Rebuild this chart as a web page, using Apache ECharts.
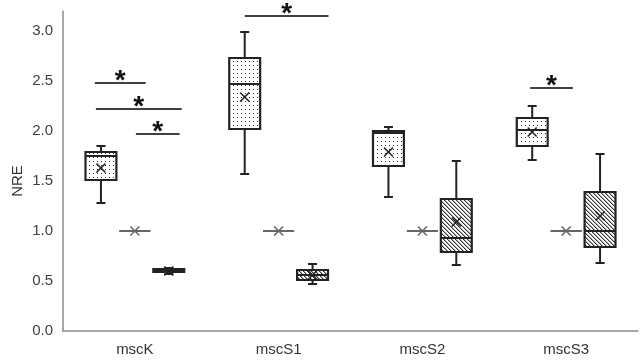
<!DOCTYPE html>
<html>
<head>
<meta charset="utf-8">
<script src="https://cdn.jsdelivr.net/npm/echarts@6/dist/echarts.min.js"></script>
<style>
  html, body { margin: 0; padding: 0; background: #fff; }
  #chart { width: 642px; height: 361px; }
</style>
</head>
<body>
<div id="chart"></div>
<script>
// categories on the x axis
const categories = ['mscK', 'mscS1', 'mscS2', 'mscS3'];

// box stats per category: [min, q1, median, q3, max, mean]
const dottedStats = [
  [1.28, 1.51, 1.75, 1.79, 1.85, 1.63],
  [1.57, 2.02, 2.47, 2.73, 2.99, 2.34],
  [1.34, 1.65, 1.98, 2.00, 2.04, 1.79],
  [1.71, 1.85, 2.01, 2.13, 2.25, 1.99]
];
const controlStats = [
  [1.0, 1.0, 1.0, 1.0, 1.0, 1.0],
  [1.0, 1.0, 1.0, 1.0, 1.0, 1.0],
  [1.0, 1.0, 1.0, 1.0, 1.0, 1.0],
  [1.0, 1.0, 1.0, 1.0, 1.0, 1.0]
];
const hatchedStats = [
  [0.57, 0.59, 0.60, 0.62, 0.63, 0.60],
  [0.47, 0.51, 0.56, 0.61, 0.67, 0.56],
  [0.66, 0.79, 0.93, 1.32, 1.70, 1.09],
  [0.68, 0.84, 1.00, 1.39, 1.77, 1.15]
];

// significance bars: category index, from slot, to slot, y level
const sigCat = [0, 0, 0, 1, 3];
const sigFrom = [-1.18, -1.15, 0.03, -1.0, -1.06];
const sigTo = [0.32, 1.38, 1.32, 1.47, 0.2];
const sigY = [2.48, 2.22, 1.97, 3.15, 2.43];

const yTicks = [0, 0.5, 1.0, 1.5, 2.0, 2.5, 3.0];

function makeDots() {
  const c = document.createElement('canvas');
  c.width = 4; c.height = 4;
  const ctx = c.getContext('2d');
  ctx.fillStyle = '#fff';
  ctx.fillRect(0, 0, 4, 4);
  ctx.fillStyle = '#333';
  ctx.fillRect(1, 1, 1, 1);
  return c;
}
function makeHatch() {
  const c = document.createElement('canvas');
  c.width = 4; c.height = 4;
  const ctx = c.getContext('2d');
  ctx.fillStyle = '#fff';
  ctx.fillRect(0, 0, 4, 4);
  ctx.fillStyle = '#333';
  for (let i = 0; i < 4; i++) {
    ctx.fillRect(i, i, 1, 1);
  }
  ctx.fillStyle = '#aaa';
  for (let i = 0; i < 4; i++) {
    ctx.fillRect((i + 1) % 4, i, 1, 1);
  }
  return c;
}

const SLOT = 0.236;   // slot spacing as share of band width
const BOXW = 0.215;   // box width as share of band width

function boxRenderer(slot, fill, stroke) {
  return function (params, api) {
    const band = api.size([1, 0])[0];
    const cx = api.coord([api.value(0), 0])[0] + slot * SLOT * band;
    const hw = BOXW * band / 2;
    const yMin = api.coord([0, api.value(1)])[1];
    const yQ1 = api.coord([0, api.value(2)])[1];
    const yMed = api.coord([0, api.value(3)])[1];
    const yQ3 = api.coord([0, api.value(4)])[1];
    const yMax = api.coord([0, api.value(5)])[1];
    const yMean = api.coord([0, api.value(6)])[1];
    const capW = 4.5, xs = 4.5;
    const line = (x1, y1, x2, y2, w, c) => ({
      type: 'line', shape: { x1, y1, x2, y2 },
      style: { stroke: c || stroke, lineWidth: w || 2 }
    });
    return {
      type: 'group',
      children: [
        line(cx, yQ3, cx, yMax),
        line(cx, yQ1, cx, yMin),
        line(cx - capW, yMax, cx + capW, yMax),
        line(cx - capW, yMin, cx + capW, yMin),
        {
          type: 'rect',
          shape: { x: cx - hw, y: yQ3, width: hw * 2, height: yQ1 - yQ3 },
          style: { fill: fill, stroke: stroke, lineWidth: 2.2 }
        },
        line(cx - hw, yMed, cx + hw, yMed),
        line(cx - xs, yMean - xs, cx + xs, yMean + xs, 1.6),
        line(cx - xs, yMean + xs, cx + xs, yMean - xs, 1.6)
      ]
    };
  };
}

function toData(stats) {
  return stats.map((s, i) => [i].concat(s));
}

const chart = echarts.init(document.getElementById('chart'), null, { renderer: 'canvas' });

const dotFill = { image: makeDots(), repeat: 'repeat' };
const hatchFill = { image: makeHatch(), repeat: 'repeat' };

const option = {
  animation: false,
  grid: { left: 63, right: 4, top: 11, bottom: 30 },
  xAxis: {
    type: 'category',
    data: categories,
    axisLine: { lineStyle: { color: '#8c8c8c', width: 1.5 } },
    axisTick: { show: false },
    axisLabel: { color: '#333', fontSize: 15, fontFamily: 'Liberation Sans', margin: 11 }
  },
  yAxis: {
    type: 'value',
    min: 0,
    max: 3.2,
    interval: 0.5,
    axisLine: { show: true, lineStyle: { color: '#8c8c8c', width: 1.5 } },
    axisTick: { show: false },
    splitLine: { show: false },
    axisLabel: {
      color: '#404040', fontSize: 15, fontFamily: 'Liberation Sans', margin: 10,
      showMaxLabel: false,
      formatter: v => yTicks.includes(Math.round(v * 10) / 10) ? v.toFixed(1) : ''
    }
  },
  graphic: [{
    type: 'text',
    x: 18, y: 181,
    rotation: Math.PI / 2,
    style: {
      text: 'NRE', fill: '#333', fontSize: 15, fontFamily: 'Liberation Sans',
      align: 'center', verticalAlign: 'middle'
    }
  }],
  series: [
    {
      type: 'custom', name: 'dotted',
      encode: { x: 0, y: [1, 5] },
      data: toData(dottedStats),
      renderItem: boxRenderer(-1, dotFill, '#222')
    },
    {
      type: 'custom', name: 'control',
      encode: { x: 0, y: [1, 5] },
      data: toData(controlStats),
      renderItem: boxRenderer(0, '#fff', '#666')
    },
    {
      type: 'custom', name: 'hatched',
      encode: { x: 0, y: [1, 5] },
      data: toData(hatchedStats),
      renderItem: boxRenderer(1, hatchFill, '#222')
    },
    {
      type: 'custom', name: 'sig',
      encode: { x: 0, y: 3 },
      data: sigCat.map((c, i) => [c, sigFrom[i], sigTo[i], sigY[i]]),
      renderItem: function (params, api) {
        const band = api.size([1, 0])[0];
        const cx = api.coord([api.value(0), 0])[0];
        const x1 = cx + api.value(1) * SLOT * band;
        const x2 = cx + api.value(2) * SLOT * band;
        const y = api.coord([0, api.value(3)])[1];
        return {
          type: 'group',
          children: [
            {
              type: 'line', shape: { x1, y1: y, x2, y2: y },
              style: { stroke: '#404040', lineWidth: 2 }
            },
            {
              type: 'text',
              x: (x1 + x2) / 2, y: y - 2,
              style: {
                text: '*', fill: '#111', fontSize: 28, fontWeight: 'bold',
                fontFamily: 'Liberation Sans', align: 'center', verticalAlign: 'middle'
              }
            }
          ]
        };
      }
    }
  ]
};

chart.setOption(option);
</script>
</body>
</html>
